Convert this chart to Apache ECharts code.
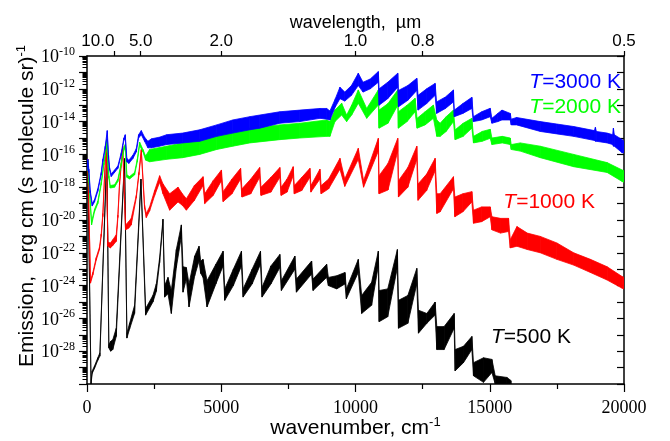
<!DOCTYPE html>
<html><head><meta charset="utf-8">
<script src="https://cdn.jsdelivr.net/npm/echarts@6/dist/echarts.min.js"></script>
<style>html,body{margin:0;padding:0;background:#fff}#c{width:670px;height:441px}</style>
</head><body><div id="c"></div>
<script>
// x: wavenumber (cm^-1); each vertex: [wavenumber, log10 upper edge, log10 lower edge] of emission
const logT3000 = [
[0,-16.7,-17.0],[30,-16.3,-16.6],[70,-16.9,-17.1],[120,-18.2,-18.35],[194,-19.0,-19.15],[280,-18.75,-18.9],
[403,-18.1,-18.25],[530,-17.1,-17.25],[590,-16.3,-16.45],[679,-15.5,-15.65],[754,-14.55,-14.8],[802,-16.05,-16.25],
[840,-16.8,-16.95],[903,-17.2,-17.35],[1026,-16.95,-17.1],[1150,-16.7,-16.85],[1276,-15.9,-16.05],[1373,-15.0,-15.15],
[1425,-14.8,-15.0],[1485,-16.25,-16.45],[1560,-16.35,-16.55],[1709,-16.05,-16.25],[1836,-15.65,-15.85],[1921,-14.8,-15.0],
[2022,-14.55,-14.8],[2145,-14.95,-15.2],[2268,-15.2,-15.6],[2400,-15.05,-15.6],[2700,-14.95,-15.5],[2966,-14.8,-15.4],
[3563,-14.7,-15.3],[4197,-14.5,-15.2],[4832,-14.2,-14.9],[5429,-13.9,-14.7],[6063,-13.7,-14.5],[6436,-13.6,-14.4],
[7182,-13.4,-14.1],[7928,-13.3,-14.0],[8675,-13.2,-13.8],[8925,-13.2,-13.85],[9048,-13.35,-13.9],[9250,-12.6,-13.1],
[9420,-11.9,-12.6],[9600,-12.2,-12.75],[9850,-11.8,-12.4],[10104,-11.05,-11.8],[10280,-11.6,-12.2],[10550,-11.4,-12.0],
[10850,-10.95,-11.6],[10880,-12.0,-13.0],[11200,-11.6,-12.6],[11574,-11.05,-11.9],[11600,-12.1,-13.1],[11950,-11.8,-12.7],
[12283,-11.36,-12.1],[12330,-12.4,-13.3],[12650,-12.0,-12.9],[12965,-11.67,-12.4],[13020,-12.8,-13.5],[13350,-12.5,-13.2],
[13648,-12.07,-12.8],[13680,-13.3,-13.7],[14000,-12.9,-13.5],[14334,-12.52,-13.2],[14390,-13.7,-14.0],[14700,-13.4,-13.9],
[15017,-13.19,-13.7],[15080,-13.8,-14.1],[15300,-13.5,-14.0],[15454,-13.3,-13.9],[15764,-13.5,-13.9],[15800,-13.85,-14.2],
[16000,-13.75,-14.2],[16883,-14.0,-14.6],[17500,-14.15,-14.75],[18125,-14.3,-14.9],[18900,-14.55,-15.15],[18935,-14.35,-15.2],
[18970,-14.6,-15.2],[19371,-14.7,-15.3],[19580,-14.8,-15.4],[19606,-14.4,-15.5],[19640,-14.8,-15.5],[19931,-15.1,-15.9],
[20000,-15.2,-15.9]
];
const logT2000 = [
[0,-16.7,-17.0],[30,-16.35,-16.6],[70,-17.5,-17.7],[170,-20.1,-20.3],[280,-19.35,-19.5],[403,-18.85,-19.0],
[530,-17.7,-17.85],[627,-16.5,-16.65],[716,-15.5,-15.65],[739,-15.1,-15.3],[813,-17.3,-17.45],[866,-17.9,-18.05],
[1026,-17.85,-18.0],[1150,-17.5,-17.65],[1276,-16.5,-16.65],[1373,-15.6,-15.75],[1425,-15.4,-15.55],[1485,-17.25,-17.4],
[1586,-17.35,-17.5],[1772,-17.1,-17.25],[1873,-16.3,-16.45],[1959,-15.25,-15.45],[2084,-15.7,-15.85],[2183,-16.1,-16.35],
[2332,-15.7,-16.45],[2966,-15.5,-16.3],[3563,-15.3,-16.2],[4197,-15.1,-16.0],[4832,-14.7,-15.7],[5429,-14.55,-15.5],
[6063,-14.4,-15.3],[7182,-14.2,-15.1],[7928,-14.1,-15.0],[8925,-13.9,-14.9],[9048,-14.0,-14.9],[9234,-13.3,-14.0],
[9484,-12.88,-13.6],[9670,-13.6,-14.0],[9857,-13.0,-13.6],[10104,-12.07,-12.88],[10417,-13.2,-13.8],[10850,-12.07,-12.99],
[10876,-13.3,-14.4],[11210,-12.9,-14.1],[11574,-12.07,-13.0],[11596,-13.4,-14.4],[11920,-13.0,-14.0],[12219,-12.58,-13.4],
[12293,-13.8,-14.4],[12592,-13.4,-14.2],[12902,-12.99,-13.8],[13028,-13.9,-14.9],[13152,-14.1,-14.9],[13376,-13.7,-14.6],
[13648,-13.3,-14.0],[13711,-14.5,-15.1],[14010,-14.1,-14.9],[14334,-13.8,-14.4],[14394,-14.9,-15.3],[14719,-14.6,-15.2],
[15017,-14.47,-15.02],[15081,-15.0,-15.4],[15466,-14.9,-15.3],[15764,-15.0,-15.4],[15800,-15.4,-15.7],[16137,-15.3,-15.8],
[16883,-15.5,-16.2],[18125,-16.0,-16.75],[19371,-16.5,-17.1],[19931,-16.95,-17.65],[20000,-17.0,-17.7]
];
const logT1000 = [
[0,-16.5,-16.8],[30,-16.3,-16.6],[60,-18.5,-18.65],[131,-23.7,-23.85],[218,-23.2,-23.35],[342,-22.3,-22.45],
[466,-21.65,-21.8],[530,-20.85,-21.0],[590,-19.6,-19.8],[653,-17.3,-17.45],[716,-15.4,-15.55],[777,-21.35,-21.6],
[870,-21.4,-21.7],[963,-21.2,-21.55],[1089,-20.9,-21.3],[1150,-19.7,-19.85],[1213,-17.7,-17.85],[1330,-15.5,-15.65],
[1436,-20.3,-20.6],[1550,-20.1,-20.5],[1648,-19.9,-20.3],[1836,-18.5,-18.65],[1933,-17.1,-17.25],[2022,-15.7,-15.85],
[2145,-19.1,-19.3],[2208,-19.6,-19.85],[2332,-19.2,-19.45],[2520,-18.2,-18.5],[2705,-17.3,-17.7],[2830,-17.8,-18.4],
[3078,-18.4,-19.4],[3390,-18.0,-18.9],[3550,-18.4,-19.1],[3701,-18.7,-19.4],[4000,-17.9,-18.8],[4321,-17.36,-17.9],
[4384,-18.4,-19.0],[4700,-17.6,-18.5],[5007,-16.95,-17.6],[5070,-18.27,-18.88],[5400,-17.5,-18.4],[5720,-16.85,-17.5],
[5770,-18.1,-18.6],[6100,-17.5,-18.4],[6430,-16.8,-17.4],[6480,-18.0,-18.5],[6850,-17.4,-18.3],[7182,-16.8,-17.4],
[7230,-18.0,-18.5],[7450,-17.5,-18.3],[7679,-16.75,-17.3],[7720,-17.9,-18.4],[8000,-17.4,-18.2],[8302,-16.85,-17.4],
[8340,-17.9,-18.3],[8675,-16.9,-17.5],[8720,-17.9,-18.4],[9000,-17.5,-18.1],[9421,-16.24,-16.9],[9600,-17.5,-17.95],
[10104,-15.63,-16.3],[10300,-17.6,-18.0],[10850,-15.02,-15.8],[10876,-17.3,-18.4],[11210,-16.55,-18.17],[11574,-15.02,-15.8],
[11600,-17.6,-18.6],[11950,-16.8,-18.0],[12283,-15.5,-16.3],[12330,-17.8,-18.8],[12650,-17.2,-18.2],[12965,-16.24,-17.0],
[13028,-18.4,-19.6],[13152,-18.4,-19.5],[13648,-17.36,-18.1],[13700,-18.6,-19.8],[14000,-18.4,-19.5],[14334,-18.27,-18.9],
[14394,-19.4,-20.2],[14700,-19.2,-20.1],[15017,-19.2,-19.8],[15081,-19.8,-20.6],[15400,-19.9,-20.8],[15700,-19.9,-20.7],
[15764,-21.2,-21.7],[16013,-20.4,-21.6],[16400,-20.8,-21.8],[16883,-21.0,-22.0],[17500,-21.4,-22.4],[18125,-22.0,-22.75],
[18750,-22.4,-23.2],[19371,-22.85,-23.66],[19931,-23.45,-24.16],[20000,-23.5,-24.2]
];
const logT500 = [
[0,-16.7,-16.9],[30,-16.5,-16.7],[150,-29.85,-30.0],[194,-29.2,-29.35],[280,-28.9,-29.05],[403,-28.4,-28.55],
[480,-28.1,-28.3],[739,-15.9,-16.05],[813,-27.6,-27.8],[880,-27.4,-28.0],[960,-27.3,-27.9],[1089,-26.6,-27.1],
[1400,-16.25,-16.4],[1486,-26.9,-27.2],[1586,-26.3,-26.65],[1772,-25.2,-25.7],[2010,-17.5,-17.65],[2183,-25.4,-25.8],
[2455,-24.6,-25.0],[2582,-23.9,-24.35],[2705,-22.3,-22.6],[2829,-19.95,-20.15],[2892,-24.0,-24.7],[3016,-23.5,-24.5],
[3141,-24.3,-25.7],[3327,-21.8,-22.9],[3514,-20.3,-21.0],[3576,-22.85,-24.4],[3700,-22.9,-23.6],[3800,-23.9,-25.3],
[4011,-22.2,-23.4],[4172,-21.6,-22.5],[4234,-22.5,-23.25],[4321,-22.4,-23.5],[4471,-23.7,-25.3],[4800,-22.7,-23.9],
[5068,-21.9,-22.8],[5130,-24.2,-24.9],[5450,-23.0,-24.0],[5753,-21.9,-22.8],[5814,-24.2,-24.7],[6150,-23.0,-23.9],
[6462,-21.9,-22.7],[6520,-24.1,-24.7],[6850,-22.8,-23.9],[7182,-22.1,-22.9],[7240,-23.7,-24.3],[7742,-22.2,-23.0],
[7800,-23.6,-24.4],[8365,-22.5,-23.3],[8420,-23.6,-24.3],[8925,-22.7,-23.5],[8990,-23.5,-24.0],[9300,-23.4,-24.2],
[9608,-23.2,-23.9],[9660,-24.2,-24.8],[10104,-22.4,-23.2],[10229,-24.6,-25.7],[10600,-23.8,-25.2],[10850,-21.9,-22.8],
[10880,-24.3,-26.2],[11200,-24.2,-25.9],[11560,-21.8,-22.9],[11600,-24.9,-26.6],[11950,-24.6,-26.3],[12283,-22.95,-23.9],
[12345,-25.5,-26.9],[12656,-25.7,-26.3],[12965,-25.0,-25.8],[13028,-26.5,-27.9],[13300,-26.5,-27.9],[13674,-25.7,-26.6],
[13711,-27.9,-29.2],[14021,-27.7,-28.7],[14334,-27.1,-27.9],[14394,-28.7,-29.5],[14768,-28.4,-29.9],[15081,-28.5,-29.3],
[15204,-29.5,-30.0],[15640,-29.6,-30.0],[15800,-29.8,-30.0]
];
const wavelengthTickWn = [1000, 2000, 5000, 10000, 12500, 20000];
const wavelengthLabels = ['10.0', '5.0', '2.0', '1.0', '0.8', '0.5'];
const logTickLabels = [-28, -26, -24, -22, -20, -18, -16, -14, -12, -10];
const seriesNames = ['T=500 K', 'T=1000 K', 'T=2000 K', 'T=3000 K'];
const seriesColors = ['#000000', '#ff0000', '#00ff00', '#0000ff'];

const SANS = '"Liberation Sans", Arial, sans-serif';
const SERIF = '"Liberation Serif", "Times New Roman", serif';

function band(name, pts, color) {
  const data = [];
  for (let i = 0; i < pts.length - 1; i++) {
    data.push([pts[i][0], pts[i][1], pts[i][2], pts[i + 1][0], pts[i + 1][1], pts[i + 1][2]]);
  }
  return {
    type: 'custom', name: name, data: data, clip: true, silent: true,
    xAxisIndex: 0, yAxisIndex: 0,
    encode: { x: [0, 3], y: [1, 2, 4, 5] },
    renderItem: function (params, api) {
      const a = api.coord([api.value(0), api.value(1)]);
      const b = api.coord([api.value(3), api.value(4)]);
      const c = api.coord([api.value(3), api.value(5)]);
      const d = api.coord([api.value(0), api.value(2)]);
      return { type: 'polygon', shape: { points: [a, b, c, d] },
               style: { fill: color, stroke: color, lineWidth: 0.8 } };
    }
  };
}

const minorLogTicks = [];
for (let d = -30; d < -10; d++) for (let k = 2; k <= 9; k++) minorLogTicks.push(d + Math.log10(k));

const chart = echarts.init(document.getElementById('c'), null, { renderer: 'canvas' });
const axisLine = { show: true, lineStyle: { color: '#000', width: 1.5 } };
chart.setOption({
  animation: false,
  backgroundColor: '#fff',
  grid: { left: 87, right: 46, top: 56, bottom: 57, containLabel: false, outerBoundsMode: 'none' },
  xAxis: [
    { type: 'value', position: 'bottom', min: 0, max: 20000, interval: 5000, nameMoveOverlap: false,
      axisLine: axisLine, splitLine: { show: false },
      axisTick: { length: 8, lineStyle: { color: '#000', width: 1.2 } },
      minorTick: { show: true, splitNumber: 2, length: 5, lineStyle: { color: '#000', width: 1.2 } },
      axisLabel: { color: '#000', fontFamily: SERIF, fontSize: 18, margin: 15,
        formatter: function (v) { return String(Math.round(v)); } },
      name: '{n|wavenumber, cm}{s|-1}', nameLocation: 'middle', nameGap: 32,
      nameTextStyle: { color: '#000', fontFamily: SANS, fontSize: 21,
        rich: { n: { fontFamily: SANS, fontSize: 21, color: '#000', verticalAlign: 'bottom' },
                s: { fontFamily: SANS, fontSize: 13, color: '#000', verticalAlign: 'bottom', padding: [0, 0, 10, 0] } } } },
    { type: 'value', position: 'top', min: 0, max: 20000, nameMoveOverlap: false,
      axisLine: axisLine, splitLine: { show: false },
      axisTick: { customValues: wavelengthTickWn, length: 5, lineStyle: { color: '#000', width: 1.2 } },
      axisLabel: { customValues: wavelengthTickWn, margin: 6, color: '#000', fontFamily: SANS, fontSize: 17,
        formatter: function (v) {
          const i = wavelengthTickWn.indexOf(Math.round(v));
          if (i < 0) return '';
          return i === 0 ? '{l|' + wavelengthLabels[i] + '}' : wavelengthLabels[i];
        },
        rich: { l: { fontFamily: SANS, fontSize: 17, color: '#000', padding: [0, 32, 0, 0] } } },
      name: 'wavelength,  µm', nameLocation: 'middle', nameGap: 24,
      nameTextStyle: { color: '#000', fontFamily: SANS, fontSize: 18 } }
  ],
  yAxis: [
    { type: 'value', position: 'left', min: -30, max: -10, interval: 1, nameMoveOverlap: false,
      axisLine: axisLine, splitLine: { show: false },
      axisTick: { length: 8, lineStyle: { color: '#000', width: 1.2 } },
      axisLabel: { margin: 12, color: '#000',
        formatter: function (v) {
          const r = Math.round(v);
          return logTickLabels.indexOf(r) >= 0 ? '{b|10}{s|' + r + '}' : '';
        },
        rich: { b: { fontFamily: SERIF, fontSize: 18, color: '#000', verticalAlign: 'bottom' },
                s: { fontFamily: SERIF, fontSize: 12, color: '#000', verticalAlign: 'bottom', padding: [0, 0, 9, 0] } } },
      name: '{n|Emission,  erg cm (s molecule sr)}{s|-1}', nameLocation: 'middle', nameGap: 49,
      nameTextStyle: { color: '#000', fontFamily: SANS, fontSize: 21, padding: [0, 0, 0, 28],
        rich: { n: { fontFamily: SANS, fontSize: 21, color: '#000', verticalAlign: 'bottom' },
                s: { fontFamily: SANS, fontSize: 13, color: '#000', verticalAlign: 'bottom', padding: [0, 0, 10, 0] } } } },
    { type: 'value', position: 'left', min: -30, max: -10,
      axisLine: { show: false }, splitLine: { show: false }, axisLabel: { show: false },
      axisTick: { customValues: minorLogTicks, length: 4.5, lineStyle: { color: '#000', width: 1 } } },
    { type: 'value', position: 'right', min: -30, max: -10, interval: 1,
      axisLine: axisLine, splitLine: { show: false }, axisLabel: { show: false },
      axisTick: { inside: true, length: 7, lineStyle: { color: '#000', width: 1.2 } } }
  ],
  series: [
    band(seriesNames[0], logT500, seriesColors[0]),
    band(seriesNames[1], logT1000, seriesColors[1]),
    band(seriesNames[2], logT2000, seriesColors[2]),
    band(seriesNames[3], logT3000, seriesColors[3])
  ],
  graphic: [
    { type: 'text', x: 621, y: 82, style: { text: '{i|T}{n|=3000 K}', align: 'right', verticalAlign: 'middle',
      rich: { i: { fontFamily: SANS, fontSize: 21, fontStyle: 'italic', fill: seriesColors[3] }, n: { fontFamily: SANS, fontSize: 21, fill: seriesColors[3] } } } },
    { type: 'text', x: 621, y: 107, style: { text: '{i|T}{n|=2000 K}', align: 'right', verticalAlign: 'middle',
      rich: { i: { fontFamily: SANS, fontSize: 21, fontStyle: 'italic', fill: seriesColors[2] }, n: { fontFamily: SANS, fontSize: 21, fill: seriesColors[2] } } } },
    { type: 'text', x: 595, y: 202, style: { text: '{i|T}{n|=1000 K}', align: 'right', verticalAlign: 'middle',
      rich: { i: { fontFamily: SANS, fontSize: 21, fontStyle: 'italic', fill: seriesColors[1] }, n: { fontFamily: SANS, fontSize: 21, fill: seriesColors[1] } } } },
    { type: 'text', x: 571, y: 337, style: { text: '{i|T}{n|=500 K}', align: 'right', verticalAlign: 'middle',
      rich: { i: { fontFamily: SANS, fontSize: 21, fontStyle: 'italic', fill: seriesColors[0] }, n: { fontFamily: SANS, fontSize: 21, fill: seriesColors[0] } } } }
  ]
});
</script></body></html>
